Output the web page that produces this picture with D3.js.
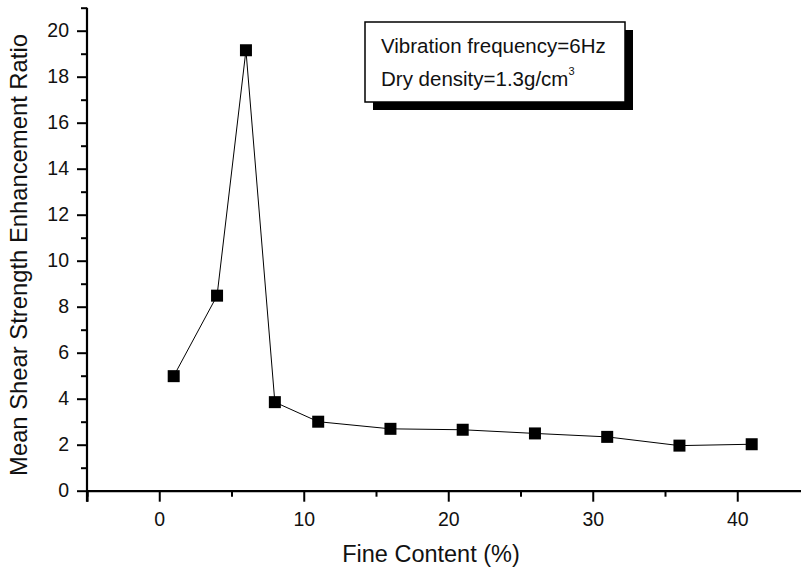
<!DOCTYPE html>
<html>
<head>
<meta charset="utf-8">
<script src="https://cdn.jsdelivr.net/npm/d3@7"></script>
<style>
  html, body { margin: 0; padding: 0; background: #fff; }
  svg { display: block; font-family: Arial, "Liberation Sans", sans-serif; }
</style>
</head>
<body>
<svg id="chart" width="801" height="573"></svg>
<script>
const fineContent = [1, 4, 6, 8, 11, 16, 21, 26, 31, 36, 41];
const ratio = [4.98, 8.48, 19.15, 3.85, 3.0, 2.69, 2.65, 2.49, 2.34, 1.96, 2.02];
const xMajorTicks = [0, 10, 20, 30, 40];
const xMinorTicks = [-5, 5, 15, 25, 35, 45];
const yMajorTicks = [0, 2, 4, 6, 8, 10, 12, 14, 16, 18, 20];
const yMinorTicks = [1, 3, 5, 7, 9, 11, 13, 15, 17, 19, 21];
const xTitle = "Fine Content (%)";
const yTitle = "Mean Shear Strength Enhancement Ratio";
const legendLine1 = "Vibration frequency=6Hz";
const legendLine2 = "Dry density=1.3g/cm";
const legendSup = "3";

const svg = d3.select("#chart");
const x = d3.scaleLinear().domain([-5, 45]).range([87, 809.5]);
const y = d3.scaleLinear().domain([0, 21]).range([490.7, 7.7]);

// X axis
const xAxisMajor = d3.axisBottom(x).tickValues(xMajorTicks).tickSize(11).tickPadding(10).tickFormat(d3.format("d"));
const xAxisMinor = d3.axisBottom(x).tickValues(xMinorTicks).tickSize(6).tickFormat("");
const gx = svg.append("g").attr("transform", `translate(0,${y(0)})`);
gx.call(xAxisMajor);
const gxm = svg.append("g").attr("transform", `translate(0,${y(0)})`);
gxm.call(xAxisMinor);
gxm.select(".domain").remove();

// Y axis
const yAxisMajor = d3.axisLeft(y).tickValues(yMajorTicks).tickSize(10).tickPadding(8).tickFormat(d3.format("d"));
const yAxisMinor = d3.axisLeft(y).tickValues(yMinorTicks).tickSize(6).tickFormat("");
const gy = svg.append("g").attr("transform", `translate(${x(-5)},0)`);
gy.call(yAxisMajor);
const gym = svg.append("g").attr("transform", `translate(${x(-5)},0)`);
gym.call(yAxisMinor);
gym.select(".domain").remove();

svg.selectAll(".domain").attr("stroke", "#000").attr("stroke-width", 2.2);
svg.selectAll(".tick line").attr("stroke", "#000").attr("stroke-width", 2);
svg.selectAll(".tick text").attr("fill", "#111").style("font-size", "19.5px").style("font-family", "Arial, 'Liberation Sans', sans-serif");
gy.select(".domain").attr("d", `M0,${y(21)}V${y(0) + 11}`);

// Axis titles
svg.append("text")
  .attr("x", 431)
  .attr("y", 562)
  .attr("text-anchor", "middle")
  .style("font-size", "23.5px")
  .attr("fill", "#111")
  .text(xTitle);

svg.append("text")
  .attr("transform", `translate(27,255) rotate(-90)`)
  .attr("text-anchor", "middle")
  .style("font-size", "23.8px")
  .attr("fill", "#111")
  .text(yTitle);

// Data line
const line = d3.line().x((d, i) => x(fineContent[i])).y(d => y(d));
svg.append("path")
  .datum(ratio)
  .attr("d", line)
  .attr("fill", "none")
  .attr("stroke", "#000")
  .attr("stroke-width", 1);

// Markers
const ms = 12;
svg.selectAll("rect.pt")
  .data(ratio)
  .enter().append("rect")
  .attr("class", "pt")
  .attr("x", (d, i) => x(fineContent[i]) - ms / 2)
  .attr("y", d => y(d) - ms / 2)
  .attr("width", ms)
  .attr("height", ms)
  .attr("fill", "#000");

// Legend box with shadow
const lb = { x: 365, y: 22, w: 260, h: 80 };
svg.append("rect")
  .attr("x", lb.x + 8).attr("y", lb.y + 8)
  .attr("width", lb.w).attr("height", lb.h)
  .attr("fill", "#000");
svg.append("rect")
  .attr("x", lb.x).attr("y", lb.y)
  .attr("width", lb.w).attr("height", lb.h)
  .attr("fill", "#fff")
  .attr("stroke", "#000")
  .attr("stroke-width", 1.5);

svg.append("text")
  .attr("x", lb.x + 16).attr("y", lb.y + 31)
  .style("font-size", "20.5px").attr("fill", "#111")
  .text(legendLine1);
const t2 = svg.append("text")
  .attr("x", lb.x + 16).attr("y", lb.y + 64)
  .style("font-size", "20.5px").attr("fill", "#111");
t2.append("tspan").text(legendLine2);
t2.append("tspan").attr("dy", -11).style("font-size", "11px").text(legendSup);
</script>
</body>
</html>
